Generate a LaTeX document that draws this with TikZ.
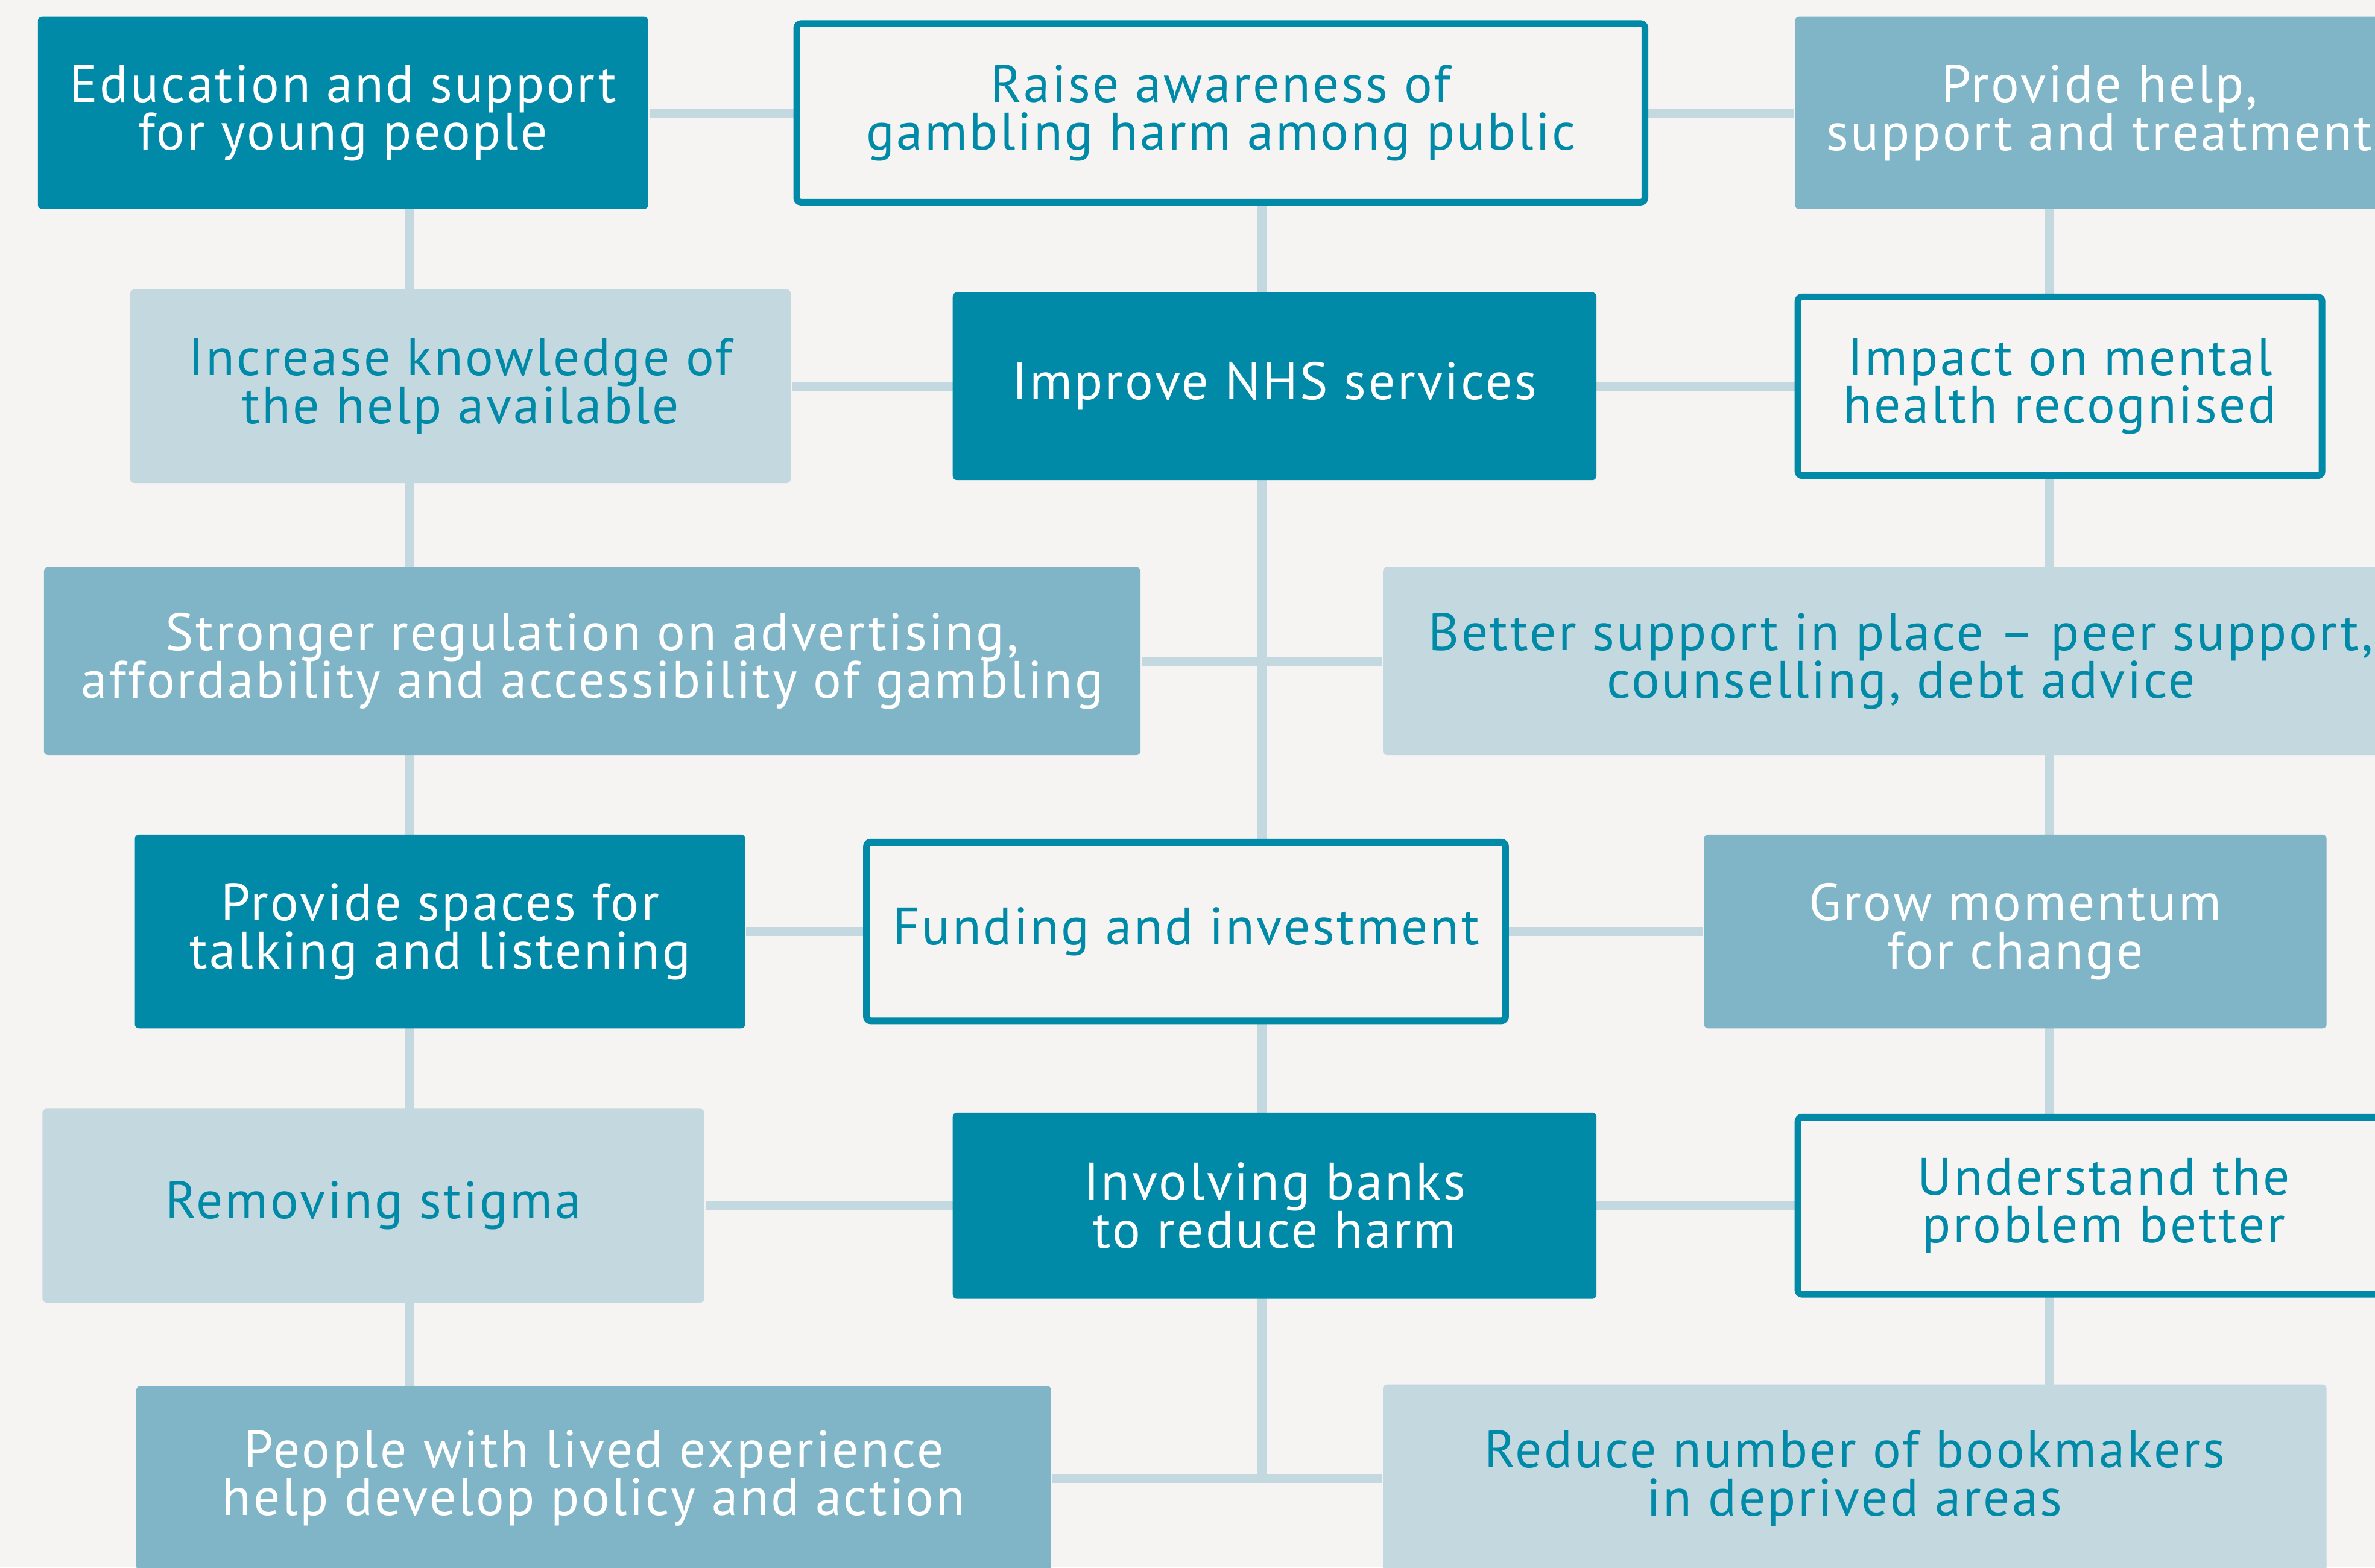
\documentclass[tikz,border=0pt]{standalone}
\usepackage{fontspec}
\setmainfont[LetterSpace=4]{PT Sans}
\usetikzlibrary{positioning,backgrounds}

\definecolor{tealdark}{HTML}{008AA8}
\definecolor{tealmid}{HTML}{7FB5C6}
\definecolor{teallight}{HTML}{C4D9DF}
\definecolor{paper}{HTML}{F5F4F2}

\newcommand\boxfont{\fontsize{9.9}{9}\selectfont\lineskiplimit=-20pt\relax}

\tikzset{
  box/.style={rectangle,rounded corners=0.8pt,align=center,inner sep=0pt},
  darkbox/.style={box,fill=tealdark,text=white},
  midbox/.style={box,fill=tealmid,text=white},
  lightbox/.style={box,fill=teallight,text=tealdark},
  framebox/.style={box,fill=paper,draw=tealdark,line width=1.25pt,text=tealdark},
  link/.style={draw=teallight,line width=1.7pt},
}

\begin{document}
\begin{tikzpicture}[
  font=\boxfont,
]

\useasboundingbox (0,0) rectangle (15.68,-10.35);

% columns of the grid
\coordinate (colL) at (2.70,0);
\coordinate (colM) at (8.33,0);
\coordinate (colR) at (13.53,0);

% row 1
\node[darkbox,minimum width=4.03cm,minimum height=1.27cm] (edu) at (2.265,-0.745) {Education and support\\for young people};
\node[framebox,minimum width=5.6cm,minimum height=1.18cm] (aware) at (8.06,-0.745) {Raise awareness of\\gambling harm among public};
\node[midbox,minimum width=4.02cm,minimum height=1.27cm] (help) at (13.86,-0.745) {Provide help,\\support and treatment};

% row 2
\node[lightbox,minimum width=4.36cm,minimum height=1.28cm] (know) at (3.04,-2.55) {Increase knowledge of\\the help available};
\node[darkbox,minimum width=4.25cm,minimum height=1.24cm] (nhs) at (8.415,-2.55) {Improve NHS services};
\node[framebox,minimum width=3.46cm,minimum height=1.18cm] (mental) at (13.6,-2.55) {Impact on mental\\health recognised};

% row 3
\node[midbox,minimum width=7.24cm,minimum height=1.24cm] (regul) at (3.91,-4.365) {Stronger regulation on advertising,\\affordability and accessibility of gambling};
\node[lightbox,minimum width=6.84cm,minimum height=1.24cm] (peer) at (12.55,-4.365) {Better support in place -- peer support,\\counselling, debt advice};

% row 4
\node[darkbox,minimum width=4.03cm,minimum height=1.28cm] (talk) at (2.905,-6.15) {Provide spaces for\\talking and listening};
\node[framebox,minimum width=4.22cm,minimum height=1.18cm] (fund) at (7.83,-6.15) {Funding and investment};
\node[midbox,minimum width=4.11cm,minimum height=1.28cm] (moment) at (13.305,-6.15) {Grow momentum\\for change};

% row 5
\node[lightbox,minimum width=4.37cm,minimum height=1.28cm] (stigma) at (2.465,-7.96) {Removing stigma};
\node[darkbox,minimum width=4.25cm,minimum height=1.23cm] (banks) at (8.415,-7.96) {Involving banks\\to reduce harm};
\node[framebox,minimum width=4.04cm,minimum height=1.17cm] (underst) at (13.89,-7.96) {Understand the\\problem better};

% row 6
\node[midbox,minimum width=6.04cm,minimum height=1.22cm] (lived) at (3.92,-9.76) {People with lived experience\\help develop policy and action};
\node[lightbox,minimum width=6.23cm,minimum height=1.24cm] (bookie) at (12.245,-9.76) {Reduce number of bookmakers\\in deprived areas};

\begin{scope}[on background layer]
\fill[paper] (0,0) rectangle (15.68,-10.35);
% rows
\draw[link] (edu) -- (help);
\draw[link] (know) -- (mental);
\draw[link] (regul) -- (peer);
\draw[link] (talk) -- (moment);
\draw[link] (stigma) -- (underst);
\draw[link] (lived) -- (bookie);
% columns
\draw[link] (edu -| colL) -- (lived -| colL);
\draw[link] (aware -| colM) -- (lived -| colM);
\draw[link] (help -| colR) -- (bookie -| colR);
\end{scope}

\end{tikzpicture}
\end{document}
